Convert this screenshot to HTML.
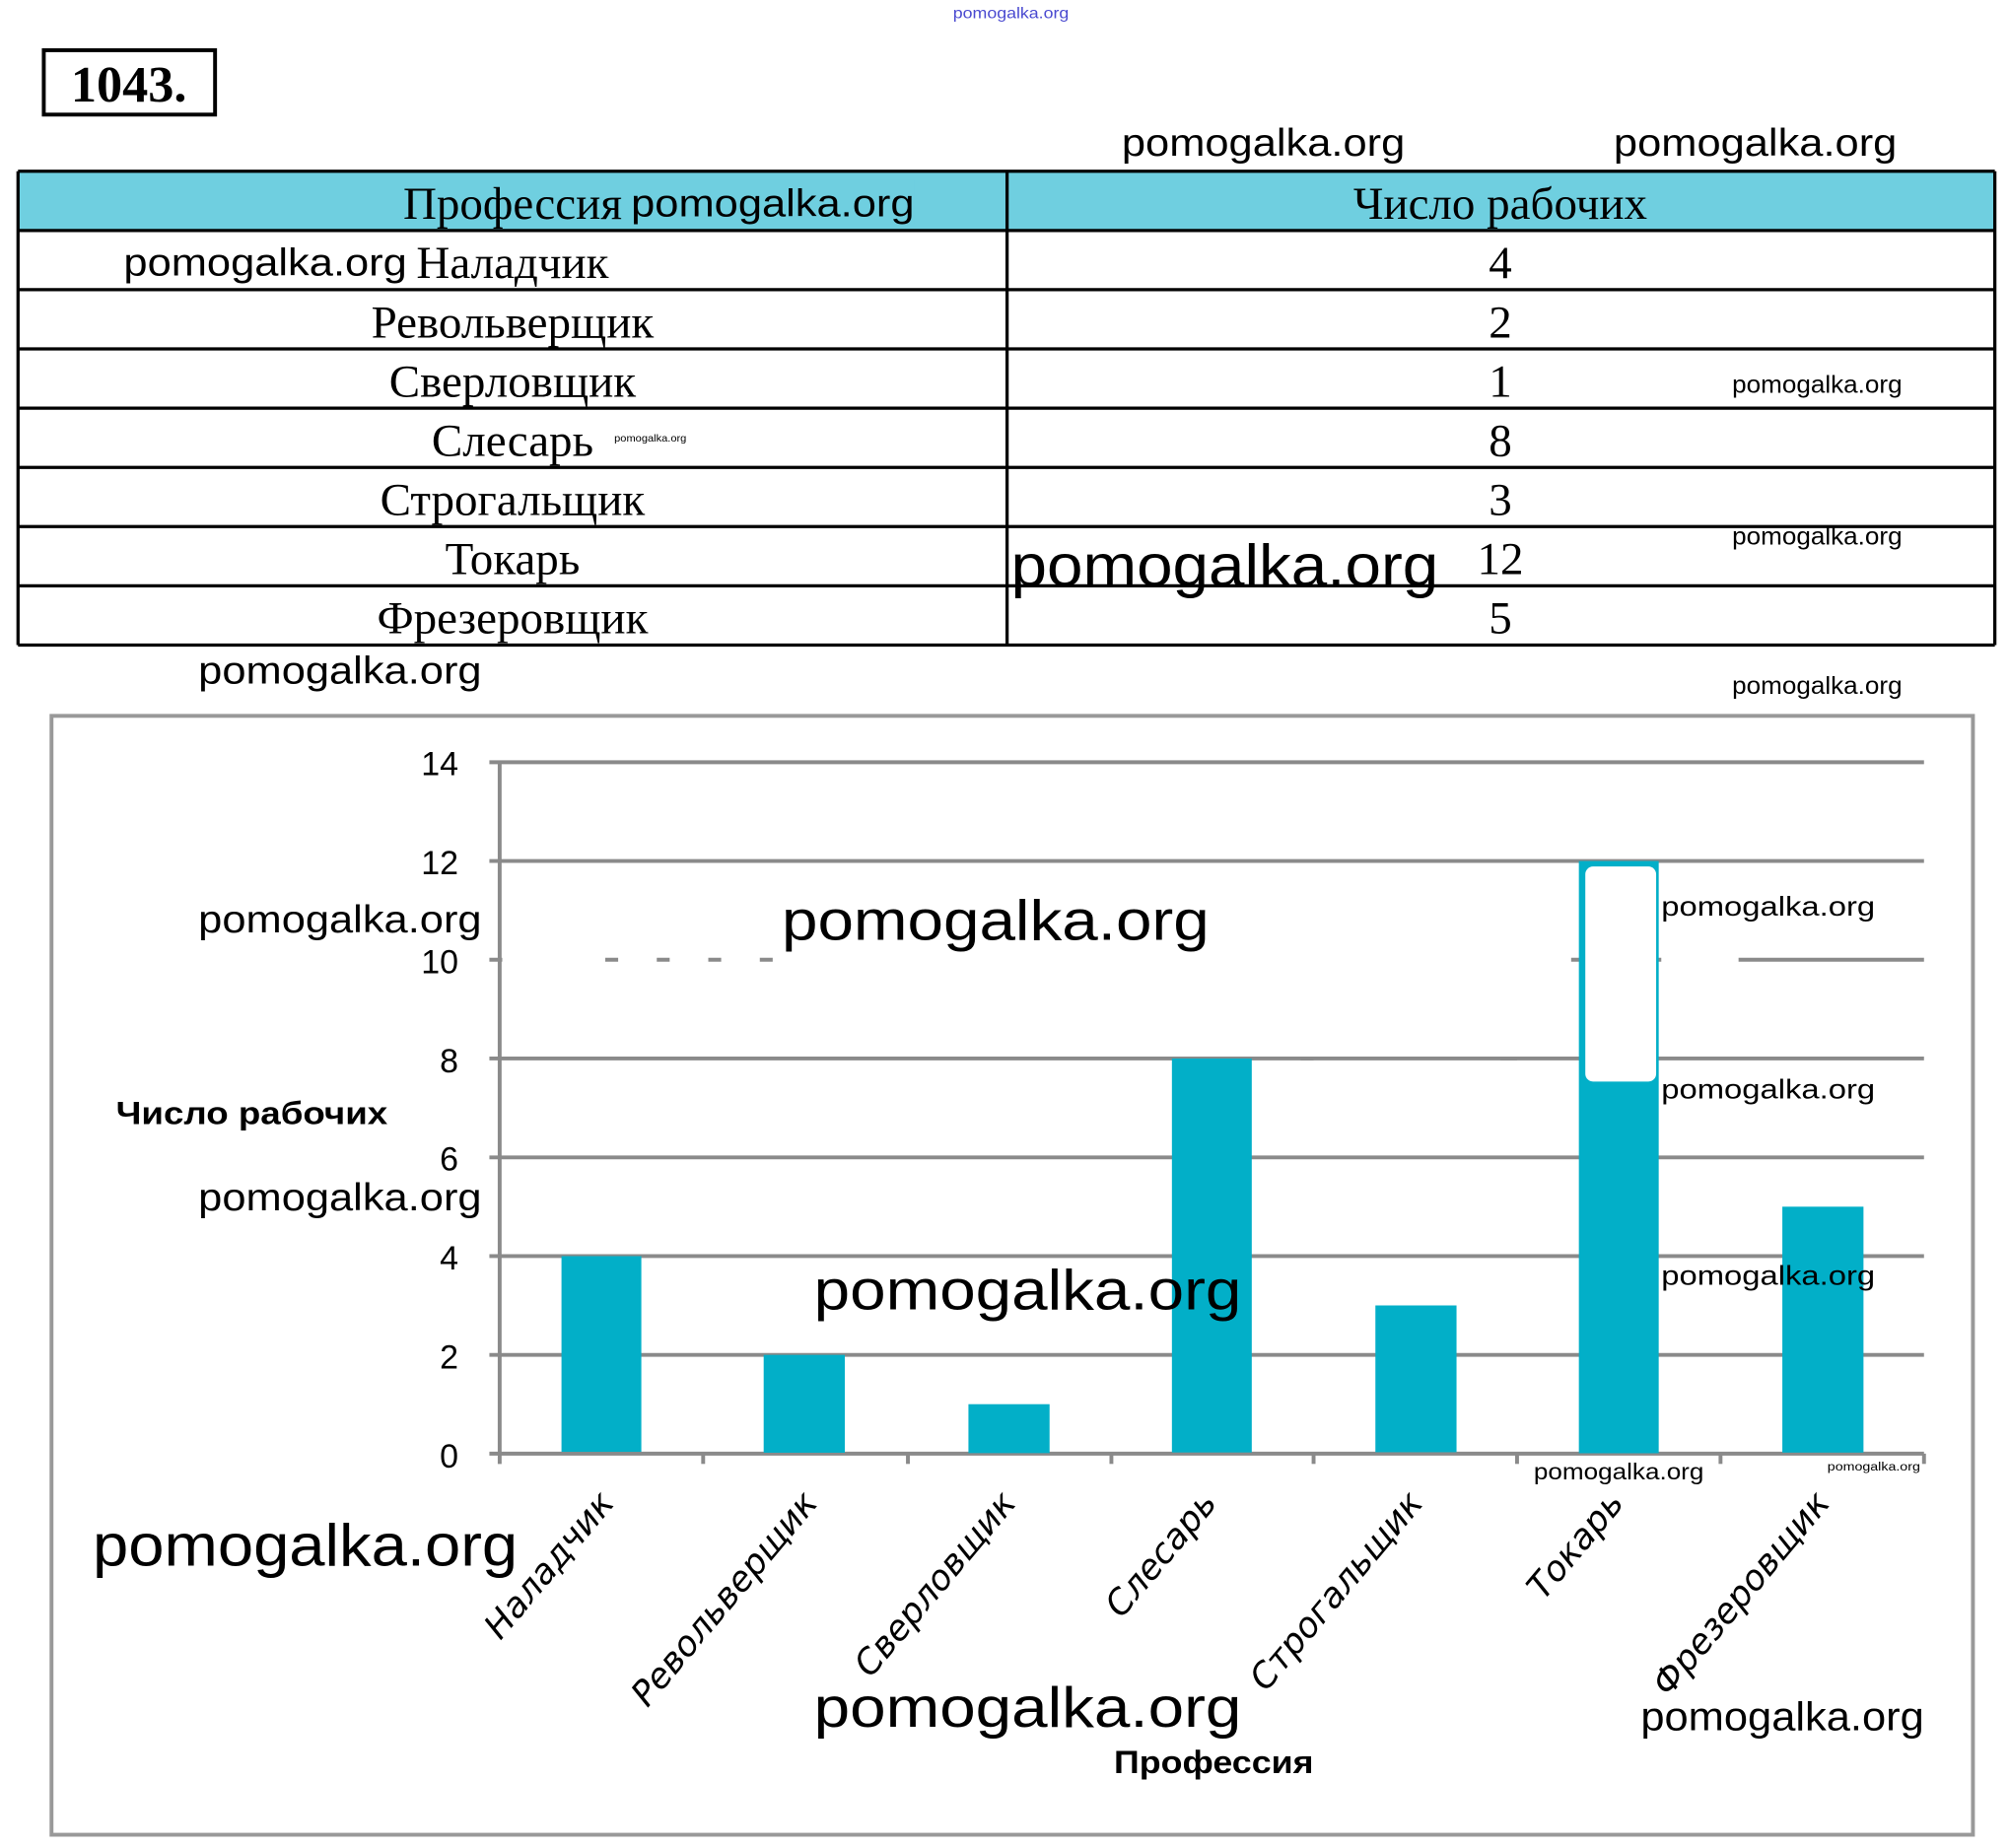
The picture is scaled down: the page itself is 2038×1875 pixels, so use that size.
<!DOCTYPE html>
<html><head><meta charset="utf-8"><style>
html,body{margin:0;padding:0;background:#fff;}
svg{display:block;}
.s{font-family:"Liberation Sans","DejaVu Sans",sans-serif;}
.d{font-family:"DejaVu Sans","Liberation Sans",sans-serif;}
.r{font-family:"Liberation Serif","DejaVu Serif",serif;}
</style></head><body>
<svg width="2038" height="1875" viewBox="0 0 1560 1435.3" preserveAspectRatio="none" xmlns="http://www.w3.org/2000/svg">
<rect width="1560" height="1436" fill="#fff"/>
<text x="740" y="14" class="s" font-size="12" fill="#4a4ad0" textLength="90" lengthAdjust="spacingAndGlyphs">pomogalka.org</text>
<rect x="34" y="39" width="133" height="50" fill="none" stroke="#000" stroke-width="3"/>
<text x="100" y="79" class="r" font-size="40" font-weight="bold" text-anchor="middle">1043.</text>
<g class="s" font-size="30" fill="#000">
<text x="871" y="121" textLength="220" lengthAdjust="spacingAndGlyphs">pomogalka.org</text>
<text x="1253" y="121" textLength="220" lengthAdjust="spacingAndGlyphs">pomogalka.org</text>
</g>
<!-- table -->
<rect x="14" y="133" width="1535" height="46" fill="#6fcfe0"/>
<g stroke="#000" stroke-width="2.5">
<line x1="14" y1="133" x2="1549" y2="133"/>
<line x1="14" y1="179" x2="1549" y2="179"/>
<line x1="14" y1="225" x2="1549" y2="225"/>
<line x1="14" y1="271" x2="1549" y2="271"/>
<line x1="14" y1="317" x2="1549" y2="317"/>
<line x1="14" y1="363" x2="1549" y2="363"/>
<line x1="14" y1="409" x2="1549" y2="409"/>
<line x1="14" y1="455" x2="1549" y2="455"/>
<line x1="14" y1="501" x2="1549" y2="501"/>
<line x1="14" y1="133" x2="14" y2="501"/>
<line x1="782" y1="133" x2="782" y2="501"/>
<line x1="1549" y1="133" x2="1549" y2="501"/>
</g>
<g class="r" font-size="36" text-anchor="middle">
<text x="398" y="170">Профессия</text>
<text x="1165" y="170">Число рабочих</text>
<text x="398" y="216">Наладчик</text>
<text x="398" y="262">Револьверщик</text>
<text x="398" y="308">Сверловщик</text>
<text x="398" y="354">Слесарь</text>
<text x="398" y="400">Строгальщик</text>
<text x="398" y="446">Токарь</text>
<text x="398" y="492">Фрезеровщик</text>
<text x="1165" y="216">4</text>
<text x="1165" y="262">2</text>
<text x="1165" y="308">1</text>
<text x="1165" y="354">8</text>
<text x="1165" y="400">3</text>
<text x="1165" y="446">12</text>
<text x="1165" y="492">5</text>
</g>
<g class="s" fill="#000">
<rect x="488" y="140" width="222" height="34" fill="#6fcfe0"/>
<text x="490" y="168" font-size="30" textLength="220" lengthAdjust="spacingAndGlyphs">pomogalka.org</text>
<rect x="96" y="186" width="222" height="34" fill="#fff"/>
<text x="96" y="214" font-size="30" textLength="220" lengthAdjust="spacingAndGlyphs">pomogalka.org</text>
<text x="1345" y="305" font-size="19" textLength="132" lengthAdjust="spacingAndGlyphs">pomogalka.org</text>
<text x="477" y="343" font-size="8" textLength="56" lengthAdjust="spacingAndGlyphs">pomogalka.org</text>
<text x="1345" y="423" font-size="19" textLength="132" lengthAdjust="spacingAndGlyphs">pomogalka.org</text>
<text x="785" y="455" font-size="46" textLength="332" lengthAdjust="spacingAndGlyphs">pomogalka.org</text>
<text x="154" y="531" font-size="30" textLength="220" lengthAdjust="spacingAndGlyphs">pomogalka.org</text>
<text x="1345" y="539" font-size="19" textLength="132" lengthAdjust="spacingAndGlyphs">pomogalka.org</text>
</g>
<!-- chart box -->
<rect x="40" y="556" width="1492" height="869" fill="none" stroke="#999" stroke-width="3"/>
<g stroke="#8a8a8a" stroke-width="3">
<line x1="380" y1="592" x2="1494" y2="592"/>
<line x1="380" y1="668.7" x2="1494" y2="668.7"/>
<line x1="380" y1="745.4" x2="1494" y2="745.4"/>
<line x1="380" y1="822.1" x2="1494" y2="822.1"/>
<line x1="380" y1="898.9" x2="1494" y2="898.9"/>
<line x1="380" y1="975.6" x2="1494" y2="975.6"/>
<line x1="380" y1="1052.3" x2="1494" y2="1052.3"/>
<line x1="380" y1="1129" x2="1494" y2="1129"/>
<line x1="388" y1="592" x2="388" y2="1137"/>
<line x1="546" y1="1129" x2="546" y2="1137"/>
<line x1="705" y1="1129" x2="705" y2="1137"/>
<line x1="863" y1="1129" x2="863" y2="1137"/>
<line x1="1020" y1="1129" x2="1020" y2="1137"/>
<line x1="1178" y1="1129" x2="1178" y2="1137"/>
<line x1="1336" y1="1129" x2="1336" y2="1137"/>
<line x1="1494" y1="1129" x2="1494" y2="1137"/>
</g>
<g fill="#02afc8">
<rect x="436" y="975.6" width="62" height="152"/>
<rect x="593" y="1052.3" width="63" height="76"/>
<rect x="752" y="1090.6" width="63" height="38"/>
<rect x="910" y="822.1" width="62" height="306"/>
<rect x="1068" y="1013.9" width="63" height="114"/>
<rect x="1226" y="668.7" width="62" height="460"/>
<rect x="1384" y="937.2" width="63" height="191"/>
</g>
<!-- erased band -->
<rect x="390" y="674" width="830" height="122" fill="#fff"/>
<rect x="1290" y="674" width="60" height="122" fill="#fff"/>
<rect x="1231" y="673" width="55" height="167" rx="6" fill="#fff"/>
<g stroke="#8a8a8a" stroke-width="3">
<line x1="470" y1="745.4" x2="600" y2="745.4" stroke-dasharray="10 30"/>
<line x1="1010" y1="822.1" x2="1020" y2="822.1"/>
<line x1="1165" y1="822.1" x2="1178" y2="822.1"/>
</g>
<g class="s" font-size="26" text-anchor="end" fill="#000">
<text x="356" y="602">14</text>
<text x="356" y="679">12</text>
<text x="356" y="756">10</text>
<text x="356" y="833">8</text>
<text x="356" y="909">6</text>
<text x="356" y="986">4</text>
<text x="356" y="1063">2</text>
<text x="356" y="1140">0</text>
</g>
<text x="90" y="873" class="s" font-size="25" font-weight="bold" textLength="211" lengthAdjust="spacingAndGlyphs">Число рабочих</text>
<g class="d" font-size="27" font-style="italic" text-anchor="end">
<text transform="translate(478,1168) rotate(-50)">Наладчик</text>
<text transform="translate(636,1168) rotate(-50)">Револьверщик</text>
<text transform="translate(790,1168) rotate(-50)">Сверловщик</text>
<text transform="translate(946,1168) rotate(-50)">Слесарь</text>
<text transform="translate(1106,1168) rotate(-50)">Строгальщик</text>
<text transform="translate(1262,1168) rotate(-50)">Токарь</text>
<text transform="translate(1422,1168) rotate(-50)">Фрезеровщик</text>
</g>
<text x="865" y="1377" class="s" font-size="25" font-weight="bold" textLength="155" lengthAdjust="spacingAndGlyphs">Профессия</text>
<g class="s" fill="#000" lengthAdjust="spacingAndGlyphs">
<text x="154" y="724" font-size="30" textLength="220" lengthAdjust="spacingAndGlyphs">pomogalka.org</text>
<text x="607" y="730" font-size="44" textLength="332" lengthAdjust="spacingAndGlyphs">pomogalka.org</text>
<text x="1290" y="711" font-size="21" textLength="166" lengthAdjust="spacingAndGlyphs">pomogalka.org</text>
<text x="1290" y="853" font-size="21" textLength="166" lengthAdjust="spacingAndGlyphs">pomogalka.org</text>
<text x="154" y="940" font-size="30" textLength="220" lengthAdjust="spacingAndGlyphs">pomogalka.org</text>
<text x="632" y="1017" font-size="44" textLength="332" lengthAdjust="spacingAndGlyphs">pomogalka.org</text>
<text x="1290" y="998" font-size="21" textLength="166" lengthAdjust="spacingAndGlyphs">pomogalka.org</text>
<text x="1191" y="1149" font-size="18" textLength="132" lengthAdjust="spacingAndGlyphs">pomogalka.org</text>
<text x="1419" y="1142" font-size="9" textLength="72" lengthAdjust="spacingAndGlyphs">pomogalka.org</text>
<text x="72" y="1216" font-size="46" textLength="330" lengthAdjust="spacingAndGlyphs">pomogalka.org</text>
<text x="632" y="1341" font-size="44" textLength="332" lengthAdjust="spacingAndGlyphs">pomogalka.org</text>
<text x="1274" y="1344" font-size="31" textLength="220" lengthAdjust="spacingAndGlyphs">pomogalka.org</text>
</g>
</svg>
</body></html>
